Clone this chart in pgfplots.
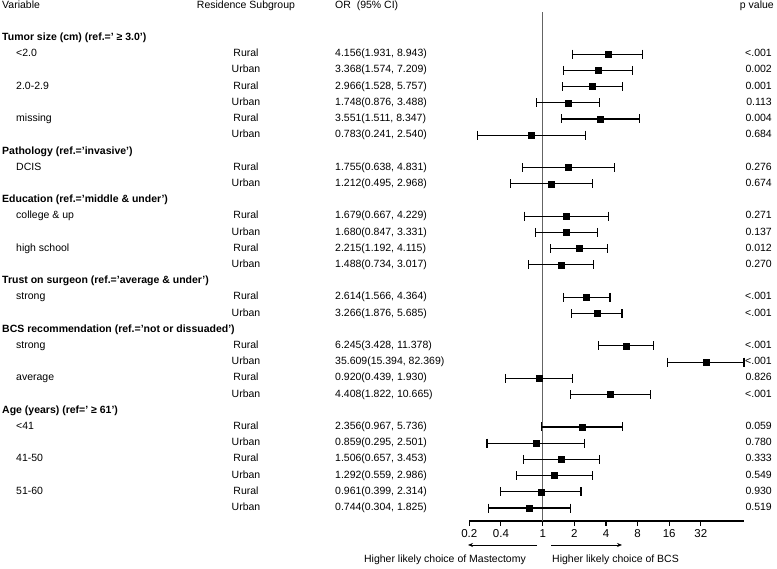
\documentclass[border=0pt]{standalone}
\usepackage{fontspec}
\setmainfont{Liberation Sans}
\usepackage{pgfplots}
\pgfplotsset{compat=1.18}
\usetikzlibrary{arrows.meta}
\newcommand\Y[1]{531.1-16.21*#1}
\begin{document}
\begin{tikzpicture}[x=1pt,y=1pt,font=\fontsize{10.5}{12}\selectfont]
\useasboundingbox (0,0) rectangle (777,569);
\begin{axis}[
  at={(469.3pt,48pt)}, anchor=south west,
  scale only axis, width=274.7pt, height=509pt,
  xmode=log, xmin=0.2, xmax=82.4, ymin=-29.8, ymax=1.6,
  axis x line*=bottom, axis y line=none,
  x axis line style={line width=1.1pt},
  xtick={0.2,0.4,1,2,4,8,16,32},
  xticklabels={0.2,0.4,1,2,4,8,16,32},
  xminorticks=false,
  tick align=outside, major tick length=5pt,
  xtick style={black, line width=1.1pt},
  xticklabel style={font=\fontsize{11.5}{13}\selectfont},
  clip=false,
]
\addplot[draw={rgb,255:red,100;green,100;blue,100}, line width=0.9pt] coordinates {(1,-29.8) (1,1.6)};
\addplot[black, line width=1.1pt, mark=|, mark size=4.5pt, mark options={solid}, unbounded coords=jump] coordinates {
(1.931,-1) (8.943,-1) (nan,nan)
(1.574,-2) (7.209,-2) (nan,nan)
(1.528,-3) (5.757,-3) (nan,nan)
(0.876,-4) (3.488,-4) (nan,nan)
(1.511,-5) (8.347,-5) (nan,nan)
(0.241,-6) (2.540,-6) (nan,nan)
(0.638,-8) (4.831,-8) (nan,nan)
(0.495,-9) (2.968,-9) (nan,nan)
(0.667,-11) (4.229,-11) (nan,nan)
(0.847,-12) (3.331,-12) (nan,nan)
(1.192,-13) (4.115,-13) (nan,nan)
(0.734,-14) (3.017,-14) (nan,nan)
(1.566,-16) (4.364,-16) (nan,nan)
(1.876,-17) (5.685,-17) (nan,nan)
(3.428,-19) (11.378,-19) (nan,nan)
(15.394,-20) (82.369,-20) (nan,nan)
(0.439,-21) (1.930,-21) (nan,nan)
(1.822,-22) (10.665,-22) (nan,nan)
(0.967,-24) (5.736,-24) (nan,nan)
(0.295,-25) (2.501,-25) (nan,nan)
(0.657,-26) (3.453,-26) (nan,nan)
(0.559,-27) (2.986,-27) (nan,nan)
(0.399,-28) (2.314,-28) (nan,nan)
(0.304,-29) (1.825,-29)
};
\addplot[only marks, mark=square*, mark size=3pt, black] coordinates {
(4.156,-1) (3.368,-2) (2.966,-3) (1.748,-4) (3.551,-5) (0.783,-6)
(1.755,-8) (1.212,-9)
(1.679,-11) (1.680,-12) (2.215,-13) (1.488,-14)
(2.614,-16) (3.266,-17)
(6.245,-19) (35.609,-20) (0.920,-21) (4.408,-22)
(2.356,-24) (0.859,-25) (1.506,-26) (1.292,-27) (0.961,-28) (0.744,-29)
};
\end{axis}
% header
\node[anchor=mid west, inner sep=0] at (2,{\Y{-2}}) {Variable};
\node[anchor=mid, inner sep=0] at (246,{\Y{-2}}) {Residence Subgroup};
\node[anchor=mid west, inner sep=0] at (335,{\Y{-2}}) {OR\ \ (95\% CI)};
\node[anchor=mid east, inner sep=0] at (774,{\Y{-2}}) {p value};
% group headers
\foreach \k/\t in {0/{Tumor size (cm) (ref.=' ≥ 3.0')},7/{Pathology (ref.='invasive')},10/{Education (ref.='middle \& under')},15/{Trust on surgeon (ref.='average \& under')},18/{BCS recommendation (ref.='not or dissuaded')},23/{Age (years) (ref=' ≥ 61')}}
  \node[anchor=mid west, inner sep=0, font=\fontsize{10.5}{12}\selectfont\bfseries] at (2,{\Y{\k}}) {\t};
% levels
\foreach \k/\t in {1/{<2.0},3/{2.0-2.9},5/{missing},8/{DCIS},11/{college \& up},13/{high school},16/{strong},19/{strong},21/{average},24/{<41},26/{41-50},28/{51-60}}
  \node[anchor=mid west, inner sep=0] at (16,{\Y{\k}}) {\t};
% rows
\foreach \k/\r/\v/\p in {
1/Rural/{4.156(1.931, 8.943)}/{<.001},
2/Urban/{3.368(1.574, 7.209)}/{0.002},
3/Rural/{2.966(1.528, 5.757)}/{0.001},
4/Urban/{1.748(0.876, 3.488)}/{0.113},
5/Rural/{3.551(1.511, 8.347)}/{0.004},
6/Urban/{0.783(0.241, 2.540)}/{0.684},
8/Rural/{1.755(0.638, 4.831)}/{0.276},
9/Urban/{1.212(0.495, 2.968)}/{0.674},
11/Rural/{1.679(0.667, 4.229)}/{0.271},
12/Urban/{1.680(0.847, 3.331)}/{0.137},
13/Rural/{2.215(1.192, 4.115)}/{0.012},
14/Urban/{1.488(0.734, 3.017)}/{0.270},
16/Rural/{2.614(1.566, 4.364)}/{<.001},
17/Urban/{3.266(1.876, 5.685)}/{<.001},
19/Rural/{6.245(3.428, 11.378)}/{<.001},
20/Urban/{35.609(15.394, 82.369)}/{<.001},
21/Rural/{0.920(0.439, 1.930)}/{0.826},
22/Urban/{4.408(1.822, 10.665)}/{<.001},
24/Rural/{2.356(0.967, 5.736)}/{0.059},
25/Urban/{0.859(0.295, 2.501)}/{0.780},
26/Rural/{1.506(0.657, 3.453)}/{0.333},
27/Urban/{1.292(0.559, 2.986)}/{0.549},
28/Rural/{0.961(0.399, 2.314)}/{0.930},
29/Urban/{0.744(0.304, 1.825)}/{0.519}}
{
  \node[anchor=mid, inner sep=0] at (246,{\Y{\k}}) {\r};
  \node[anchor=mid west, inner sep=0] at (335,{\Y{\k}}) {\v};
  \node[anchor=mid east, inner sep=0] at (772,{\Y{\k}}) {\p};
}
% arrows and direction labels
\draw[-{Stealth[length=5pt,width=4pt]}, line width=0.7pt] (537,24) -- (468,24);
\draw[-{Stealth[length=5pt,width=4pt]}, line width=0.7pt] (551,24) -- (622,24);
\node[anchor=mid east, inner sep=0] at (526,9) {Higher likely choice of Mastectomy};
\node[anchor=mid west, inner sep=0] at (552,9) {Higher likely choice of BCS};
\end{tikzpicture}
\end{document}
